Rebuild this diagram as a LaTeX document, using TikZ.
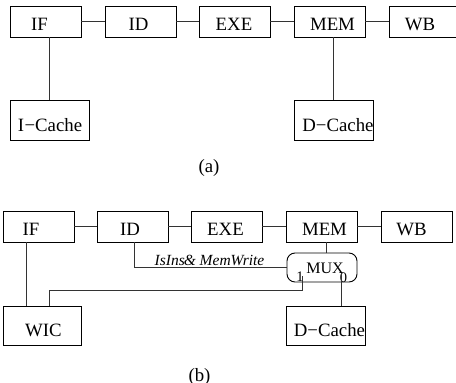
\documentclass[tikz,border=0pt]{standalone}
\usepackage{fontspec}
\setmainfont{Liberation Serif}
\begin{document}
\begin{tikzpicture}[x=1pt,y=-1pt,
  box/.style={draw, line width=0.9pt, inner sep=0pt, minimum width=71pt, minimum height=31pt},
  bigbox/.style={draw, line width=0.9pt, inner sep=0pt, minimum width=79pt, minimum height=40pt},
  txt/.style={inner sep=0pt, anchor=base, font=\fontsize{18.8}{20}\selectfont},
  sm/.style={inner sep=0pt, anchor=base, font=\fontsize{15.5}{17}\selectfont},
  wire/.style={line width=0.9pt, draw=black!80}]
\useasboundingbox (0,0) rectangle (456,383);
% ---------------- (a) ----------------
\node[box] (ifa) at (45.5,21.5) {};
\node[box] (ida) at (140.5,21.5) {};
\node[box] (exea) at (234.5,21.5) {};
\node[box] (mema) at (329.5,21.5) {};
\node[box] (wba) at (424.5,21.5) {};
\node[bigbox] (icache) at (49.5,120) {};
\node[bigbox] (dcachea) at (333.5,120) {};
\node[txt] (tifa) at (39.5,30) {IF};
\node[txt] (tida) at (138.5,30) {ID};
\node[txt] (texea) at (234,30) {EXE};
\node[txt] (tmema) at (332.5,30) {MEM};
\node[txt] (twba) at (420,30) {WB};
\node[txt] (ticache) at (50,131) {I\kern0.5pt−Cache};
\node[txt] (tdcachea) at (338,131) {D−Cache};
\draw[wire] (ifa) -- (ida);
\draw[wire] (ida) -- (exea);
\draw[wire] (exea) -- (mema);
\draw[wire] (mema) -- (wba);
\draw[wire] (icache.north) -- (icache.north |- ifa.south);
\draw[wire] (dcachea.north) -- (dcachea.north |- mema.south);
\node[txt] (capa) at (209,172) {(a)};
% ---------------- (b) ----------------
\node[box] (ifb) at (38.5,226.5) {};
\node[box] (idb) at (132.5,226.5) {};
\node[box] (exeb) at (226.5,226.5) {};
\node[box] (memb) at (321.5,226.5) {};
\node[box] (wbb) at (416.5,226.5) {};
\node[draw, line width=0.9pt, rounded corners=8pt, minimum width=70pt, minimum height=29pt, inner sep=0pt] (mux) at (322,267.5) {};
\node[bigbox, minimum width=78pt, minimum height=39pt] (wic) at (42,325.5) {};
\node[bigbox, minimum height=39pt] (dcacheb) at (325.5,325.5) {};
\node[txt] (tifb) at (31,235) {IF};
\node[txt] (tidb) at (130,235) {ID};
\node[txt] (texeb) at (225.5,235) {EXE};
\node[txt] (tmemb) at (324.5,235) {MEM};
\node[txt] (twbb) at (411.5,235) {WB};
\node[txt] (twic) at (43.5,336) {WIC};
\node[txt] (tdcacheb) at (329.5,336) {D−Cache};
\node[sm, font=\fontsize{16}{17}\selectfont] (tmux) at (325,273.3) {MUX};
\node[sm, font=\fontsize{14.5}{16}\selectfont] (one) at (300,281.7) {1};
\node[sm, font=\fontsize{14.5}{16}\selectfont] (zero) at (343.5,282) {0};
\draw[wire] (ifb) -- (idb);
\draw[wire] (idb) -- (exeb);
\draw[wire] (exeb) -- (memb);
\draw[wire] (memb) -- (wbb);
\draw[wire] ([xshift=-12.5pt]ifb.south) -- ([xshift=-12.5pt]ifb.south |- wic.north);
\draw[wire] ([xshift=4.5pt]memb.south) -- ([xshift=4.5pt]memb.south |- mux.north);
\draw[wire] ([xshift=1.5pt]idb.south) |- (mux.west);
\node[sm, font=\fontsize{15.5}{17}\selectfont\itshape] (lbl) at (209.5,265.5) {IsIns\kern-1pt\& MemWrite};
\coordinate (onept) at (302,276);
\draw[wire] ([xshift=7pt]wic.north) |- (302,290) -- (onept);
\coordinate (zeropt) at (341.5,274);
\draw[wire] (zeropt) -- (zeropt |- dcacheb.north);
\node[txt] (capb) at (199.5,381) {(b)};
\end{tikzpicture}
\end{document}
